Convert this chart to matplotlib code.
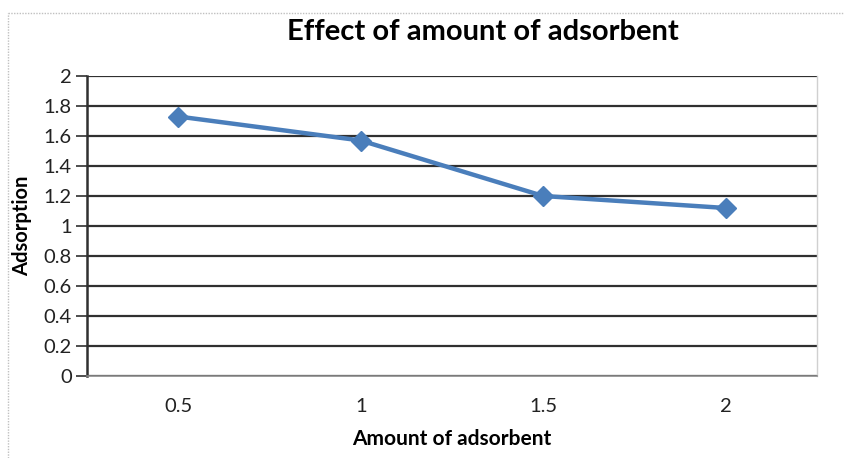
import matplotlib.pyplot as plt
from matplotlib.lines import Line2D

# adsorbent dose categories and measured adsorption
categories = ["0.5", "1", "1.5", "2"]
adsorption = [1.73, 1.57, 1.20, 1.12]
y_ticks = [0, 0.2, 0.4, 0.6, 0.8, 1, 1.2, 1.4, 1.6, 1.8, 2]
y_tick_labels = ["0", "0.2", "0.4", "0.6", "0.8", "1", "1.2", "1.4", "1.6", "1.8", "2"]

LINE_BLUE = "#4a7ebb"
FONT = "Lato"

fig = plt.figure(figsize=(8.44, 4.58), dpi=100, facecolor="white")

# light outer chart frame
fig.add_artist(Line2D([8 / 844, 1.0], [1 - 13 / 458, 1 - 13 / 458],
                      color="#c0c0c0", lw=1.0, ls=(0, (1, 1))))
fig.add_artist(Line2D([8 / 844, 8 / 844], [0, 1 - 13 / 458],
                      color="#c0c0c0", lw=1.0, ls=(0, (1, 1))))

ax = fig.add_axes([87 / 844, 82 / 458, 730 / 844, 300 / 458])

x = list(range(len(categories)))
ax.plot(x, adsorption, color=LINE_BLUE, lw=3.2, marker="D", markersize=10,
        markerfacecolor=LINE_BLUE, markeredgecolor=LINE_BLUE, zorder=3)

ax.set_xlim(-0.5, len(categories) - 0.5)
ax.set_ylim(0, 2)
ax.set_xticks(x)
ax.set_xticklabels(categories)
ax.set_yticks(y_ticks)
ax.set_yticklabels(y_tick_labels)

ax.grid(axis="y", color="#303030", lw=1.6)
ax.set_axisbelow(True)

ax.spines["top"].set_visible(False)
ax.spines["right"].set_color("#d0d0d0")
ax.spines["right"].set_linewidth(1.0)
ax.spines["bottom"].set_color("#8a8a8a")
ax.spines["bottom"].set_linewidth(1.2)
ax.spines["left"].set_color("#303030")
ax.spines["left"].set_linewidth(1.8)

ax.tick_params(axis="y", direction="out", length=8, width=1.2, color="#303030",
               labelsize=14.5, pad=3, labelcolor="#222222")
ax.tick_params(axis="x", length=0, labelsize=14.5, pad=16, labelcolor="#222222")
for lbl in ax.get_xticklabels() + ax.get_yticklabels():
    lbl.set_family(FONT)

ax.set_xlabel("Amount of adsorbent", fontsize=15, fontweight="bold",
              family=FONT, labelpad=10)
ax.set_ylabel("Adsorption", fontsize=14.5, fontweight="bold",
              family=FONT, labelpad=8)
fig.text(483 / 844, 1 - 32 / 458, "Effect of amount of adsorbent",
         ha="center", va="center", fontsize=21, fontweight="bold", family=FONT)

fig.savefig("out.png", dpi=100, facecolor="white")
